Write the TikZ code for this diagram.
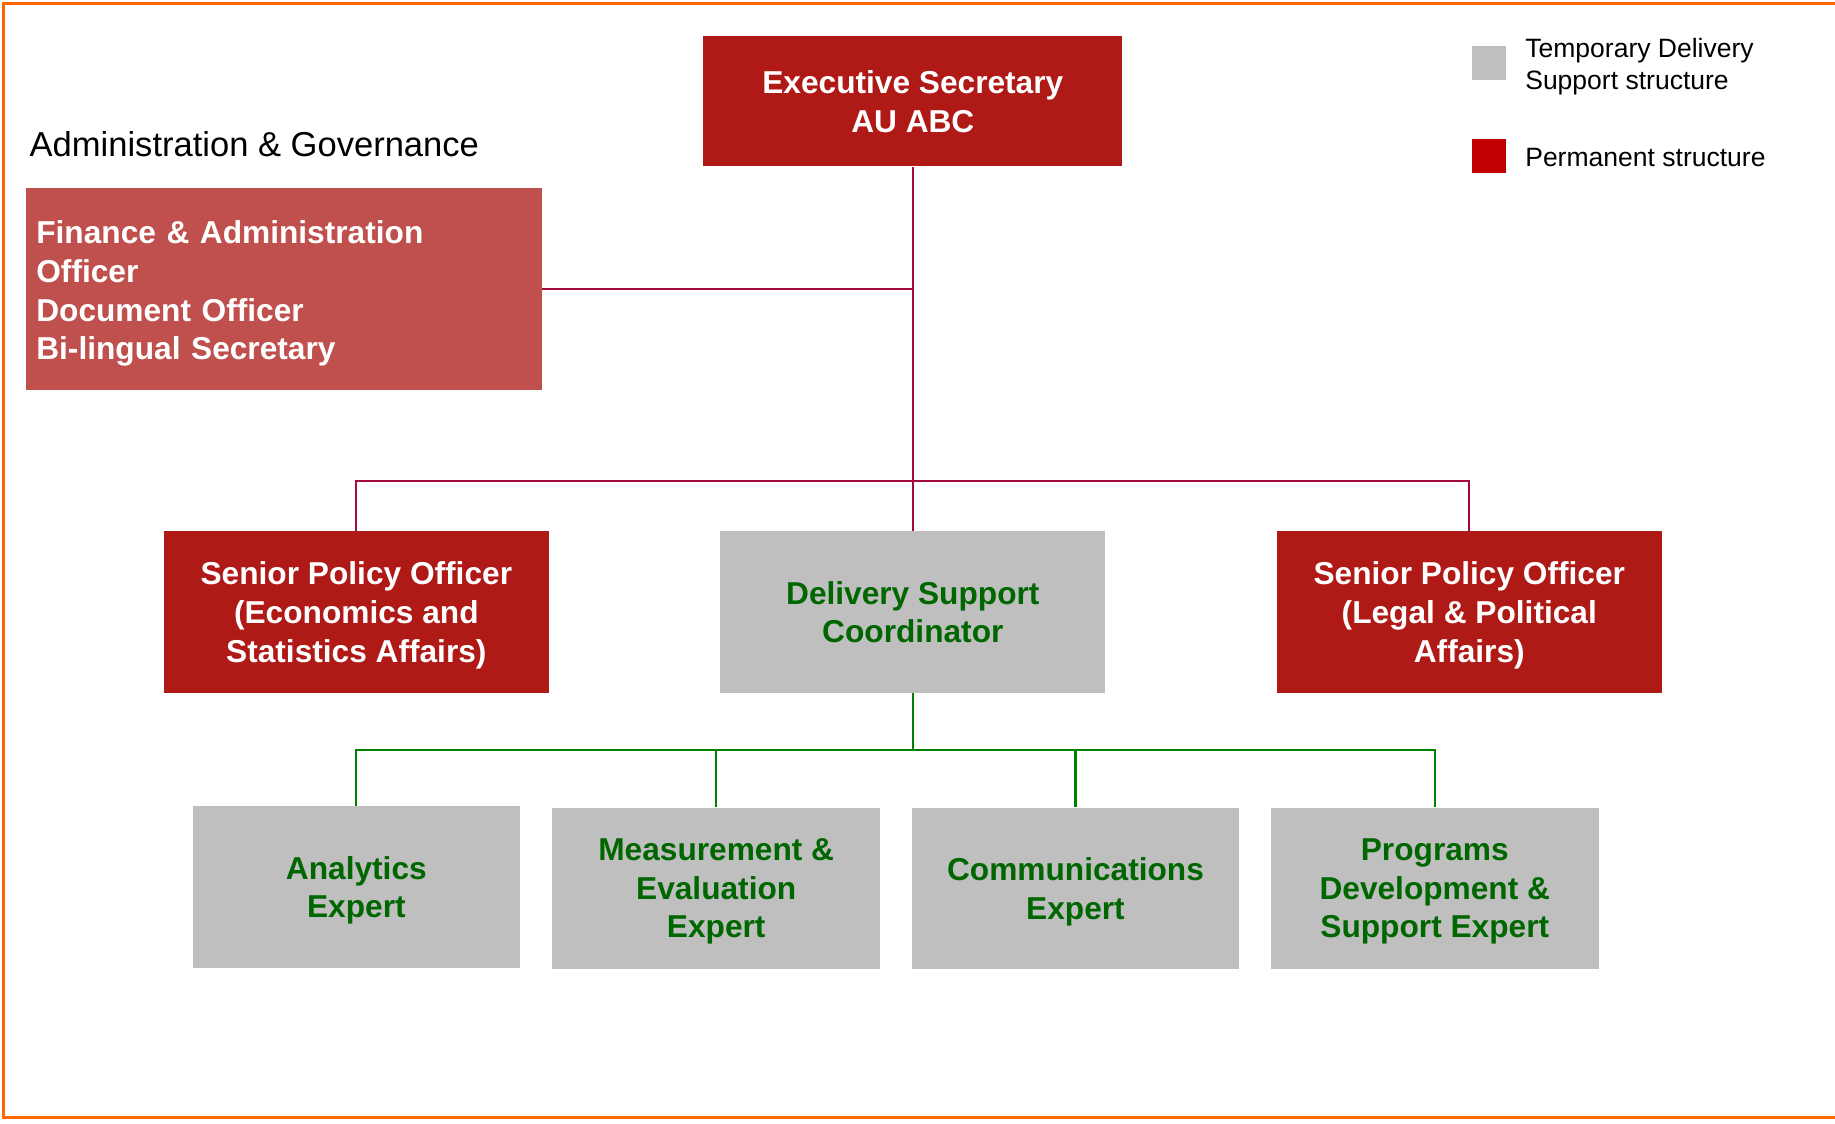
\documentclass[tikz,border=0pt]{standalone}
\usepackage{fontspec}
\setmainfont{Liberation Sans}
\usetikzlibrary{positioning}

\definecolor{permred}{RGB}{175,25,22}
\definecolor{finred}{RGB}{192,80,77}
\definecolor{legred}{RGB}{192,0,0}
\definecolor{tempgrey}{RGB}{191,191,191}
\definecolor{linered}{RGB}{165,10,64}
\definecolor{linegreen}{RGB}{0,128,0}
\definecolor{textgreen}{RGB}{0,102,0}
\definecolor{frameorange}{RGB}{255,102,0}

\begin{document}
\begin{tikzpicture}[x=0.02cm, y=-0.02cm,
    boxtext/.style={font=\bfseries\fontsize{15.4}{18.8}\selectfont, align=center, inner sep=0pt},
    perm/.style={boxtext, text depth=-2.5pt, rectangle, fill=permred, text=white},
    temp/.style={boxtext, text depth=-2.5pt, rectangle, fill=tempgrey, text=textgreen},
    redlink/.style={draw=linered, line width=1.1pt},
    greenlink/.style={draw=linegreen, line width=1.1pt},
    legtext/.style={font=\fontsize{12.9}{15.4}\selectfont, align=left, inner sep=0pt, anchor=west}]
    \def\midw{6.58cm}
    \def\midh{2.76cm}
    \def\botw{5.6cm}
    \useasboundingbox (0,0) rectangle (1568,960);
    \draw[frameorange, line width=1.7pt] (1568,3) -- (3,3) -- (3,955) -- (1568,955);

    % top
    \node(exec) [perm, minimum width=7.16cm, minimum height=2.22cm] at (780,86.5) {Executive Secretary\\AU ABC};
    \node(admin) [anchor=west, inner sep=0pt, font=\fontsize{16.8}{20}\selectfont] at (25,123) {Administration \& Governance};
    \node(fin) [boxtext, fill=finred, text=white, align=left, minimum height=3.44cm, text width=8.46cm, inner xsep=0.18cm] at (242.5,247)
        {\rule{0pt}{15.8pt}Finance \& Administration\\Officer\\Document Officer\\Bi-lingual Secretary};

    % middle row
    \node(spoL) [perm, minimum width=\midw, minimum height=\midh] at (304.5,523) {Senior Policy Officer\\(Economics and\\Statistics Affairs)};
    \node(dsc) [temp, minimum width=\midw, minimum height=\midh] at (780,523) {Delivery Support\\Coordinator};
    \node(spoR) [perm, minimum width=\midw, minimum height=\midh] at (1255.5,523) {Senior Policy Officer\\(Legal \& Political\\Affairs)};

    % bottom row
    \node(ana) [temp, minimum width=\botw, minimum height=\midh] at (304.5,758) {Analytics\\Expert};
    \node(meas) [temp, minimum width=\botw, minimum height=\midh] at (612,759) {Measurement \&\\Evaluation\\Expert};
    \node(comm) [temp, minimum width=\botw, minimum height=\midh] at (919,759) {Communications\\Expert};
    \node(prog) [temp, minimum width=\botw, minimum height=\midh] at (1226,759) {Programs\\Development \&\\Support Expert};

    % legend
    \node(legT) [rectangle, fill=tempgrey, minimum size=0.58cm, inner sep=0pt] at (1272.5,53.5) {};
    \node(legTtxt) [legtext] at (1303,57) {Temporary Delivery\\Support structure};
    \node(legP) [rectangle, fill=legred, minimum size=0.58cm, inner sep=0pt] at (1272.5,133) {};
    \node(legPtxt) [legtext] at (1303,135) {Permanent structure};

    % links
    \coordinate(hub) at (780,411);
    \coordinate(gbus) at (780,641);
    \draw[redlink] (exec.south) -- (dsc.north);
    \draw[redlink] (fin.east) -- (fin.east -| exec.south);
    \draw[redlink] (spoL.north) |- (hub) -| (spoR.north);
    \draw[greenlink] (dsc.south) -- (gbus);
    \draw[greenlink] (ana.north) |- (gbus) -| (prog.north);
    \draw[greenlink] (meas.north) -- (meas.north |- gbus);
    \draw[greenlink] (comm.north) -- (comm.north |- gbus);
\end{tikzpicture}
\end{document}
